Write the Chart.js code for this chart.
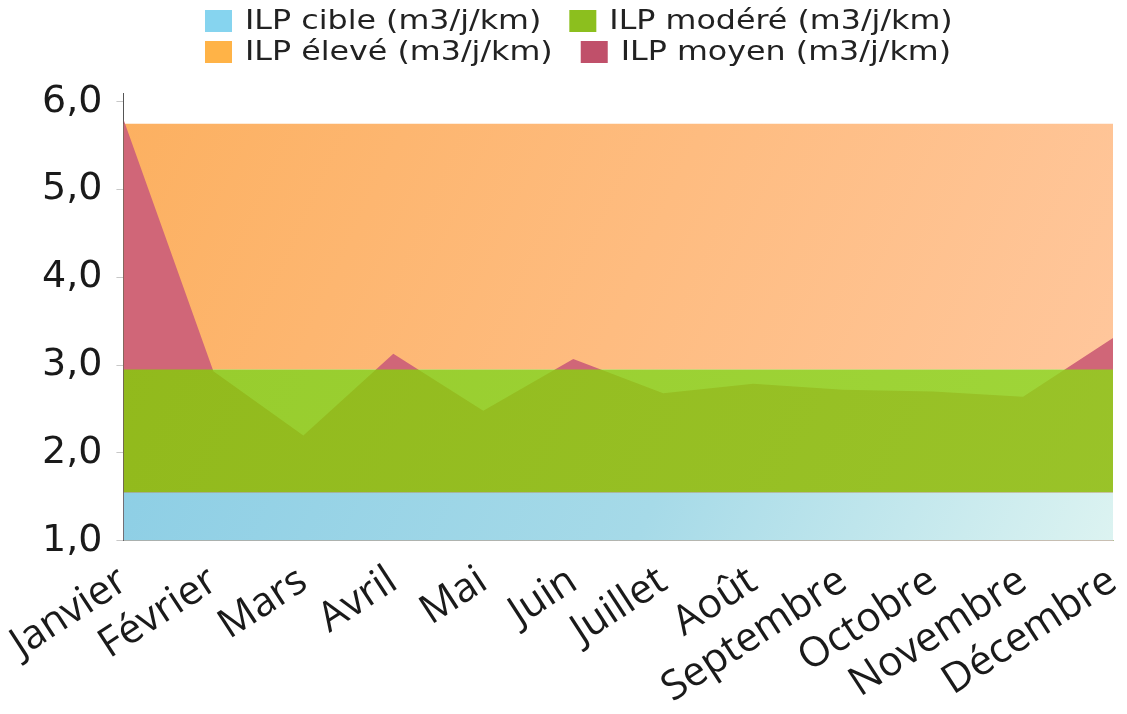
<!DOCTYPE html>
<html lang="fr">
<head>
<meta charset="utf-8">
<title>ILP mensuel</title>
<script src="https://cdn.jsdelivr.net/npm/chart.js@4.4.1/dist/chart.umd.min.js"></script>
<style>
  html, body { margin: 0; padding: 0; background: #ffffff; }
  #wrap { width: 1127px; height: 714px; }
</style>
</head>
<body>
<div id="wrap"><canvas id="ilp" width="1127" height="714"></canvas></div>
<script>
// Mois de l'année
const mois = ['Janvier', 'Février', 'Mars', 'Avril', 'Mai', 'Juin',
              'Juillet', 'Août', 'Septembre', 'Octobre', 'Novembre', 'Décembre'];

// Seuils des classes d'ILP (m3/j/km)
const ilpCible  = [1.55, 1.55, 1.55, 1.55, 1.55, 1.55, 1.55, 1.55, 1.55, 1.55, 1.55, 1.55];
const ilpModere = [2.95, 2.95, 2.95, 2.95, 2.95, 2.95, 2.95, 2.95, 2.95, 2.95, 2.95, 2.95];
const ilpEleve  = [5.75, 5.75, 5.75, 5.75, 5.75, 5.75, 5.75, 5.75, 5.75, 5.75, 5.75, 5.75];

// ILP moyen mesuré chaque mois
const ilpMoyen  = [5.80, 2.93, 2.20, 3.13, 2.48, 3.07, 2.68, 2.79, 2.72, 2.70, 2.64, 3.31];

// Graduations de l'axe vertical
const graduationsY = [1, 2, 3, 4, 5, 6];

// Couleurs des pastilles de la légende (dans l'ordre des séries)
const legendeCouleurs = ['#86d4ef', '#8cbf1e', '#ffb347', '#c0506a'];

function degrade(ctx, stops, fallback) {
  const area = ctx.chart.chartArea;
  if (!area) return fallback;
  const g = ctx.chart.ctx.createLinearGradient(area.left, area.top, area.right, area.bottom);
  stops.forEach(([p, c]) => g.addColorStop(p, c));
  return g;
}

const fondCible = (ctx) => degrade(ctx, [[0, 'rgb(134,203,228)'], [0.6, 'rgb(166,218,232)'], [1, 'rgb(220,243,241)']], 'rgb(160,215,232)');
const fondEleve = (ctx) => degrade(ctx, [[0, 'rgb(252,176,96)'], [0.5, 'rgb(254,188,128)'], [1, 'rgb(255,200,160)']], 'rgb(253,186,120)');
const fondModere = (ctx) => degrade(ctx, [[0, 'rgba(136,196,14,0.88)'], [1, 'rgba(146,208,30,0.88)']], 'rgba(140,200,20,0.88)');

// Légende sur deux lignes, deux entrées par ligne
const legendeIlp = {
  id: 'legendeIlp',
  afterDraw(chart) {
    const c = chart.ctx;
    const sets = chart.data.datasets;
    const etire = 1.22;          // texte légèrement élargi
    const taille = 26;
    const lignes = [[0, 1], [2, 3]];
    const yCentres = [21, 52];
    const xDebut = 205;
    c.save();
    c.font = taille + 'px "DejaVu Sans"';
    c.textBaseline = 'middle';
    lignes.forEach((ligne, r) => {
      let x = xDebut;
      ligne.forEach((i) => {
        const y = yCentres[r];
        c.fillStyle = legendeCouleurs[i];
        c.fillRect(x, y - 11, 27, 22);
        const tx = x + 40;
        const txt = sets[i].label;
        const w = c.measureText(txt).width * etire;
        c.fillStyle = '#222';
        c.save();
        c.translate(tx, y);
        c.scale(etire, 1);
        c.fillText(txt, 0, 1);
        c.restore();
        x = tx + w + 28;
      });
    });
    c.restore();
  }
};

new Chart(document.getElementById('ilp'), {
  type: 'line',
  data: {
    labels: mois,
    datasets: [
      { label: 'ILP cible (m3/j/km)',  data: ilpCible,  fill: 'start', order: 0,
        backgroundColor: fondCible, borderWidth: 0, pointRadius: 0, tension: 0 },
      { label: 'ILP modéré (m3/j/km)', data: ilpModere, fill: 0, order: 1,
        backgroundColor: fondModere, borderWidth: 0, pointRadius: 0, tension: 0 },
      { label: 'ILP élevé (m3/j/km)',  data: ilpEleve,  fill: 1, order: 3,
        backgroundColor: fondEleve, borderWidth: 0, pointRadius: 0, tension: 0 },
      { label: 'ILP moyen (m3/j/km)',  data: ilpMoyen,  fill: 'start', order: 2,
        backgroundColor: 'rgb(208,102,120)', borderWidth: 0, pointRadius: 0, tension: 0 }
    ]
  },
  plugins: [legendeIlp],
  options: {
    responsive: false,
    animation: false,
    layout: { padding: { top: 93, left: 28, right: 14, bottom: -7 } },
    plugins: {
      tooltip: { enabled: false },
      legend: { display: false }
    },
    scales: {
      x: {
        offset: false,
        grid: { display: false },
        border: { display: true, color: 'rgba(120,150,70,0.6)', width: 1 },
        afterFit(scale) {
          // la dernière étiquette inclinée se termine sur son repère : pas de marge à droite
          scale.paddingRight = 0;
        },
        ticks: {
          font: { family: 'Open Sans', size: 41 },
          color: '#1a1a1a',
          minRotation: 33,
          maxRotation: 33,
          padding: 8,
          autoSkip: false
        }
      },
      y: {
        min: 1,
        max: 6.1,
        grid: { drawOnChartArea: false, drawTicks: true, tickLength: 7, color: '#c8c8c8' },
        border: { display: true, color: '#555', width: 1 },
        afterBuildTicks(scale) {
          scale.ticks = graduationsY.map(v => ({ value: v }));
        },
        ticks: {
          font: { family: 'DejaVu Sans', size: 38 },
          color: '#1a1a1a',
          padding: 14,
          callback: (v) => Number(v).toFixed(1).replace('.', ',')
        }
      }
    }
  }
});
</script>
</body>
</html>
